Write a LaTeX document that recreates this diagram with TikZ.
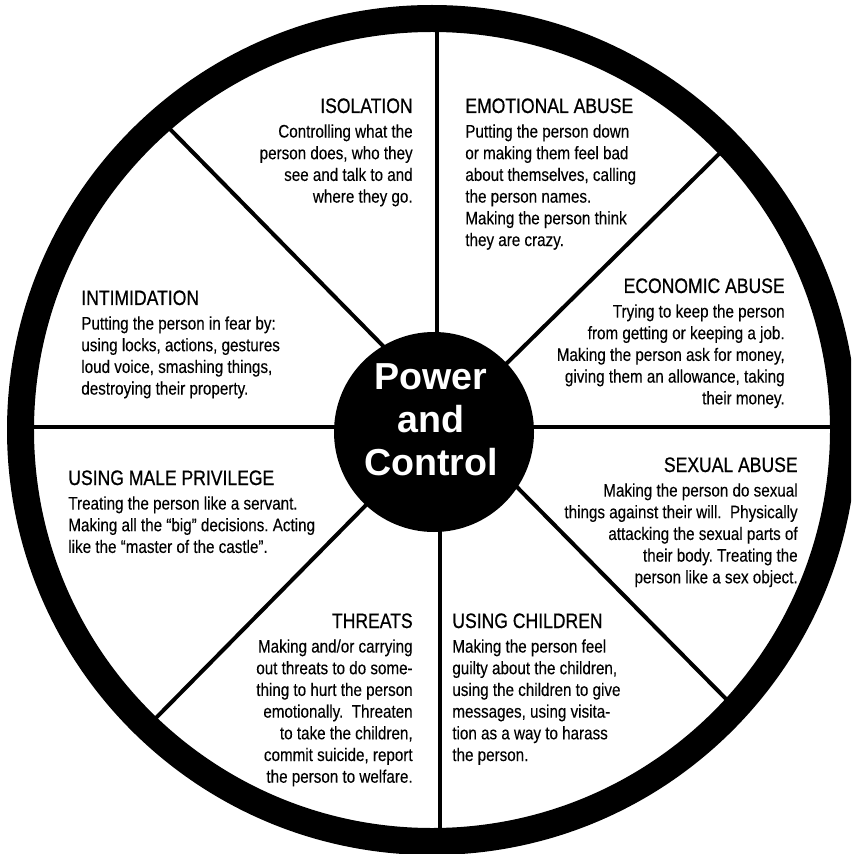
\documentclass[tikz,border=0pt]{standalone}
\usepackage{fontspec}
\setmainfont[FakeStretch=0.84, FakeBold=0.2]{Liberation Sans}
\newfontfamily\headfont[FakeStretch=0.84, FakeBold=0.7]{Liberation Sans}
\newfontfamily\hubfont{Liberation Sans}
\usetikzlibrary{positioning}
\frenchspacing

\begin{document}
\begin{tikzpicture}[x=0.02cm, y=-0.02cm,
    head/.style = {inner sep=0pt, font=\headfont\fontsize{11.9}{14}\selectfont},
    body/.style = {inner sep=0pt, font=\fontsize{10.3}{12.35}\selectfont},
    spoke/.style = {line width=0.08cm},
    node distance={0.21cm}]
    \useasboundingbox (0,0) rectangle (851,854);
    \clip (0,0) rectangle (851,854);
    % spokes
    \coordinate (n1) at (437,25);  \coordinate (n2) at (437,340);
    \coordinate (s1) at (440,525); \coordinate (s2) at (440,835);
    \coordinate (w1) at (28,427);  \coordinate (w2) at (340,427);
    \coordinate (e1) at (528,427); \coordinate (e2) at (837,427);
    \coordinate (nw1) at (166,125); \coordinate (nw2) at (387,350);
    \coordinate (ne1) at (725,148); \coordinate (ne2) at (503,367);
    \coordinate (sw1) at (150,724); \coordinate (sw2) at (370,501);
    \coordinate (se1) at (513,483); \coordinate (se2) at (732,705);
    \draw[spoke] (n1) -- (n2);
    \draw[spoke] (s1) -- (s2);
    \draw[spoke, line width=0.065cm] (w1) -- (w2);
    \draw[spoke, line width=0.065cm] (e1) -- (e2);
    \draw[spoke] (nw1) -- (nw2);
    \draw[spoke] (ne1) -- (ne2);
    \draw[spoke] (sw1) -- (sw2);
    \draw[spoke] (se1) -- (se2);
    % rim and hub
    \draw[line width=0.54cm] (432,430) circle (411.5);
    \fill (434,432) circle (100);
    \node[text=white, align=center, inner sep=0pt,
        font=\hubfont\bfseries\fontsize{21.4}{24.4}\selectfont] (hub) at (431,420) {Power\\and\\Control};
    % segments
    \node[head, anchor=base east] (isoHead) at (413,113) {ISOLATION};
    \node[body, align=right, below=of isoHead.south east, anchor=north east] (isoText)
        {Controlling what the\\person does, who they\\see and talk to and\\where they go.};
    \node[head, anchor=base west] (emoHead) at (465,113) {EMOTIONAL ABUSE};
    \node[body, align=left, below=of emoHead.south west, anchor=north west] (emoText)
        {Putting the person down\\or making them feel bad\\about themselves, calling\\the person names.\\Making the person think\\they are crazy.};
    \node[head, anchor=base east] (ecoHead) at (785,293) {ECONOMIC ABUSE};
    \node[body, align=right, below=of ecoHead.south east, anchor=north east] (ecoText)
        {Trying to keep the person\\from getting or keeping a job.\\Making the person ask for money,\\giving them an allowance, taking\\their money.};
    \node[head, anchor=base east] (sexHead) at (798,472) {SEXUAL ABUSE};
    \node[body, align=right, below=of sexHead.south east, anchor=north east] (sexText)
        {Making the person do sexual\\things against their will.\ \ Physically\\attacking the sexual parts of\\their body. Treating the\\person like a sex object.};
    \node[head, anchor=base west] (chiHead) at (452,628) {USING CHILDREN};
    \node[body, align=left, below=of chiHead.south west, anchor=north west] (chiText)
        {Making the person feel\\guilty about the children,\\using the children to give\\messages, using visita-\\tion as a way to harass\\the person.};
    \node[head, anchor=base east] (thrHead) at (413,628) {THREATS};
    \node[body, align=right, below=of thrHead.south east, anchor=north east] (thrText)
        {Making and/or carrying\\out threats to do some-\\thing to hurt the person\\emotionally.\ \ Threaten\\to take the children,\\commit suicide, report\\the person to welfare.};
    \node[head, anchor=base west] (malHead) at (68,485) {USING MALE PRIVILEGE};
    \node[body, align=left, below=of malHead.south west, anchor=north west] (malText)
        {Treating the person like a servant.\\Making all the “big” decisions. Acting\\like the “master of the castle”.};
    \node[head, anchor=base west] (intHead) at (81,305) {INTIMIDATION};
    \node[body, align=left, below=of intHead.south west, anchor=north west] (intText)
        {Putting the person in fear by:\\using locks, actions, gestures\\loud voice, smashing things,\\destroying their property.};
\end{tikzpicture}
\end{document}
